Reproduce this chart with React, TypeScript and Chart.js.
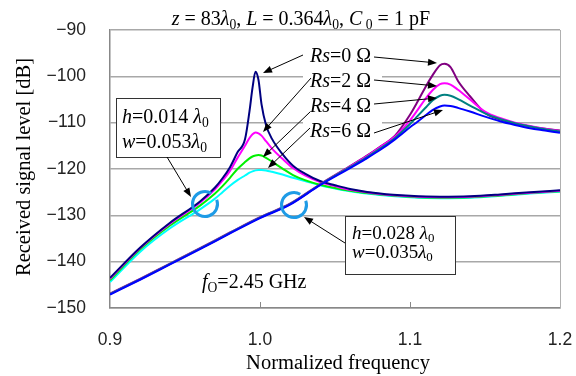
import React, { useEffect, useRef } from 'react';
import { Chart, registerables } from 'chart.js';

Chart.register(...registerables);

// ---------- data ----------
const X_TICKS = [0.9, 1.0, 1.1, 1.2];
const Y_TICKS = [-150, -140, -130, -120, -110, -100, -90];

// group A : h = 0.014 λ0, w = 0.053 λ0
const FREQ_A = [0.9, 0.92, 0.94, 0.96, 0.97, 0.975, 0.98, 0.985, 0.99, 0.993, 0.995, 0.997, 0.999, 1.001, 1.004, 1.008, 1.015, 1.022, 1.03, 1.04, 1.05, 1.06, 1.08, 1.1, 1.12, 1.14, 1.16, 1.18, 1.2];
const A_RS0 = [-143.5, -137.0, -131.6, -127.0, -124.0, -122.0, -119.6, -116.4, -113.6, -107.5, -102.5, -99.0, -100.8, -106.0, -110.5, -113.5, -116.8, -119.3, -121.0, -122.6, -123.5, -124.3, -125.3, -125.8, -126.0, -125.9, -125.5, -125.0, -124.6];
const A_RS2 = [-143.7, -137.1, -131.8, -127.3, -124.4, -122.5, -120.4, -117.6, -115.0, -113.3, -112.5, -112.1, -112.3, -112.8, -114.0, -115.6, -117.8, -119.8, -121.4, -122.8, -123.7, -124.5, -125.4, -125.9, -126.1, -126.0, -125.6, -125.1, -124.7];
const A_RS4 = [-144.0, -137.4, -132.2, -127.9, -125.3, -123.7, -121.9, -120.0, -118.5, -117.7, -117.3, -117.1, -117.0, -117.1, -117.6, -118.4, -119.9, -121.3, -122.4, -123.4, -124.1, -124.7, -125.5, -126.0, -126.2, -126.1, -125.7, -125.2, -124.8];
const A_RS6 = [-144.4, -137.9, -132.8, -128.7, -126.4, -125.0, -123.6, -122.4, -121.4, -120.8, -120.5, -120.3, -120.2, -120.2, -120.3, -120.6, -121.2, -121.9, -122.6, -123.5, -124.2, -124.8, -125.6, -126.1, -126.3, -126.2, -125.8, -125.3, -124.9];

// group B : h = 0.028 λ0, w = 0.035 λ0
const FREQ_B = [0.9, 0.92, 0.94, 0.96, 0.98, 1.0, 1.02, 1.04, 1.06, 1.07, 1.08, 1.09, 1.1, 1.105, 1.11, 1.115, 1.12, 1.123, 1.127, 1.132, 1.14, 1.15, 1.16, 1.17, 1.18, 1.19, 1.2];
const B_RS0 = [-146.9, -143.7, -140.4, -137.1, -133.7, -130.4, -127.5, -123.3, -119.4, -117.4, -115.2, -112.8, -108.3, -105.5, -102.5, -99.8, -97.6, -97.3, -98.0, -101.0, -104.3, -107.9, -109.3, -110.2, -110.8, -111.3, -111.7];
const B_RS2 = [-147.0, -143.8, -140.5, -137.2, -133.8, -130.5, -127.6, -123.4, -119.5, -117.5, -115.3, -113.0, -109.5, -107.3, -105.0, -103.0, -101.7, -101.5, -101.8, -102.9, -105.0, -107.6, -109.0, -110.0, -110.7, -111.3, -111.8];
const B_RS4 = [-147.0, -143.8, -140.5, -137.2, -133.8, -130.5, -127.6, -123.4, -119.6, -117.7, -115.6, -113.3, -110.3, -108.6, -106.9, -105.2, -104.2, -104.0, -104.2, -104.9, -106.3, -108.0, -109.2, -110.1, -110.8, -111.4, -111.9];
const B_RS6 = [-147.1, -143.9, -140.6, -137.3, -133.9, -130.6, -127.7, -123.5, -119.8, -117.9, -115.9, -113.6, -111.0, -109.8, -108.5, -107.3, -106.5, -106.3, -106.4, -106.8, -107.6, -108.7, -109.7, -110.5, -111.2, -111.7, -112.2];

const SERIES = [
  { label: 'B Rs=6 Ω', freq: FREQ_B, values: B_RS6, color: '#0000FF' },
  { label: 'B Rs=4 Ω', freq: FREQ_B, values: B_RS4, color: '#008080' },
  { label: 'B Rs=2 Ω', freq: FREQ_B, values: B_RS2, color: '#FF00FF' },
  { label: 'B Rs=0 Ω', freq: FREQ_B, values: B_RS0, color: '#800080' },
  { label: 'A Rs=0 Ω', freq: FREQ_A, values: A_RS0, color: '#000080' },
  { label: 'A Rs=2 Ω', freq: FREQ_A, values: A_RS2, color: '#FF00FF' },
  { label: 'A Rs=4 Ω', freq: FREQ_A, values: A_RS4, color: '#00F000' },
  { label: 'A Rs=6 Ω', freq: FREQ_A, values: A_RS6, color: '#00FFFF' },
];

// ---------- helpers ----------
type Seg = { t: string; it?: boolean; sub?: boolean };
const SERIF = '"Liberation Serif", "Times New Roman", serif';

function segFont(s: Seg, size: number) {
  const sz = s.sub ? size * 0.68 : size;
  return `${s.it ? 'italic ' : ''}${sz}px ${SERIF}`;
}
function richWidth(ctx: CanvasRenderingContext2D, segs: Seg[], size: number) {
  let w = 0;
  for (const s of segs) {
    ctx.font = segFont(s, size);
    w += ctx.measureText(s.t).width;
  }
  return w;
}
function drawRich(ctx: CanvasRenderingContext2D, x: number, y: number, segs: Seg[], size: number, align: 'left' | 'center' | 'right' = 'left') {
  const w = richWidth(ctx, segs, size);
  let cx = align === 'left' ? x : align === 'center' ? x - w / 2 : x - w;
  ctx.textAlign = 'left';
  ctx.textBaseline = 'alphabetic';
  ctx.fillStyle = '#000';
  for (const s of segs) {
    ctx.font = segFont(s, size);
    ctx.fillText(s.t, cx, y + (s.sub ? size * 0.18 : 0));
    cx += ctx.measureText(s.t).width;
  }
}
function drawArrow(ctx: CanvasRenderingContext2D, x1: number, y1: number, x2: number, y2: number) {
  const a = Math.atan2(y2 - y1, x2 - x1);
  const L = 9, H = 3.5;
  ctx.strokeStyle = '#000';
  ctx.fillStyle = '#000';
  ctx.lineWidth = 1;
  ctx.beginPath();
  ctx.moveTo(x1, y1);
  ctx.lineTo(x2 - Math.cos(a) * L * 0.8, y2 - Math.sin(a) * L * 0.8);
  ctx.stroke();
  ctx.beginPath();
  ctx.moveTo(x2, y2);
  ctx.lineTo(x2 - Math.cos(a) * L - Math.sin(a) * H, y2 - Math.sin(a) * L + Math.cos(a) * H);
  ctx.lineTo(x2 - Math.cos(a) * L + Math.sin(a) * H, y2 - Math.sin(a) * L - Math.cos(a) * H);
  ctx.closePath();
  ctx.fill();
}

const annotationPlugin = {
  id: 'annotations',
  beforeDatasetsDraw(chart: any) {
    const ctx = chart.ctx;
    ctx.save();
    ctx.fillStyle = '#fff';
    ctx.fillRect(303, 43, 79, 100);
    ctx.restore();
  },
  afterDatasetsDraw(chart: any) {
    const ctx: CanvasRenderingContext2D = chart.ctx;
    const { chartArea, scales } = chart;
    ctx.save();
    // right border
    ctx.strokeStyle = '#b0b0b0';
    ctx.lineWidth = 1;
    ctx.beginPath();
    ctx.moveTo(chartArea.right + 0.5, chartArea.top);
    ctx.lineTo(chartArea.right + 0.5, chartArea.bottom);
    ctx.stroke();
    // inner tick marks on x axis
    ctx.strokeStyle = '#888';
    for (const v of X_TICKS.slice(1, -1)) {
      const px = Math.round(scales.x.getPixelForValue(v)) + 0.5;
      ctx.beginPath();
      ctx.moveTo(px, chartArea.bottom);
      ctx.lineTo(px, chartArea.bottom - 6);
      ctx.stroke();
    }

    // circles
    ctx.strokeStyle = '#1E9BE6';
    ctx.lineWidth = 3;
    const deg = Math.PI / 180;
    for (const [cx, cy] of [[205, 204], [294, 205]]) {
      ctx.beginPath();
      ctx.arc(cx, cy, 12.5, -20 * deg, 300 * deg);
      ctx.stroke();
    }

    // boxes
    ctx.fillStyle = '#fff';
    ctx.strokeStyle = '#333';
    ctx.lineWidth = 1;
    ctx.fillRect(116, 98, 104, 59);
    ctx.strokeRect(116.5, 98.5, 104, 59);
    ctx.fillRect(345, 216, 110, 58);
    ctx.strokeRect(345.5, 216.5, 110, 58);

    drawRich(ctx, 122, 123, [{ t: 'h', it: true }, { t: '=0.014 ' }, { t: 'λ', it: true }, { t: '0', sub: true }], 20);
    drawRich(ctx, 122, 148, [{ t: 'w', it: true }, { t: '=0.053' }, { t: 'λ', it: true }, { t: '0', sub: true }], 20);
    drawRich(ctx, 352, 239, [{ t: 'h', it: true }, { t: '=0.028 ' }, { t: 'λ', it: true }, { t: '0', sub: true }], 19);
    drawRich(ctx, 352, 258, [{ t: 'w', it: true }, { t: '=0.035' }, { t: 'λ', it: true }, { t: '0', sub: true }], 19);

    // Rs labels
    const rs = ['0', '2', '4', '6'];
    const base = [62, 87, 112, 137];
    rs.forEach((r, i) => {
      drawRich(ctx, 310, base[i], [{ t: 'Rs', it: true }, { t: '=' + r + ' Ω' }], 20);
    });

    // arrows
    drawArrow(ctx, 303, 55, 263, 73);
    drawArrow(ctx, 311, 78, 263, 132);
    drawArrow(ctx, 310, 112, 263, 157);
    drawArrow(ctx, 310, 128, 268, 168);
    drawArrow(ctx, 374, 57, 437, 63);
    drawArrow(ctx, 374, 80, 437, 86);
    drawArrow(ctx, 374, 104, 437, 98);
    drawArrow(ctx, 374, 133, 443, 110);
    drawArrow(ctx, 167, 157, 191, 197);
    drawArrow(ctx, 345, 243, 304, 217);

    // f0 label
    drawRich(ctx, 202, 288, [{ t: 'f', it: true }, { t: 'O', sub: true }, { t: '=2.45 GHz' }], 20);

    ctx.restore();
  },
  afterDraw(chart: any) {
    const ctx: CanvasRenderingContext2D = chart.ctx;
    ctx.save();
    // title
    drawRich(ctx, 430, 25, [
      { t: 'z', it: true }, { t: ' = 83' }, { t: 'λ', it: true }, { t: '0', sub: true },
      { t: ', ' }, { t: 'L', it: true }, { t: ' = 0.364' }, { t: 'λ', it: true }, { t: '0', sub: true },
      { t: ', ' }, { t: 'C', it: true }, { t: ' 0', sub: true }, { t: ' = 1 pF' },
    ], 20, 'right');
    // axis titles
    drawRich(ctx, 338, 369, [{ t: 'Normalized frequency' }], 20.5, 'center');
    ctx.translate(30, 167);
    ctx.rotate(-Math.PI / 2);
    drawRich(ctx, 0, 0, [{ t: 'Received signal level [dB]' }], 20.5, 'center');
    ctx.restore();
  },
};

export default function App() {
  const ref = useRef<HTMLCanvasElement | null>(null);
  useEffect(() => {
    if (!ref.current) return;
    const chart = new Chart(ref.current, {
      type: 'line',
      data: {
        datasets: SERIES.map((s) => ({
          label: s.label,
          data: s.freq.map((f, i) => ({ x: f, y: s.values[i] })),
          borderColor: s.color,
          backgroundColor: s.color,
          borderWidth: 2,
          pointRadius: 0,
          cubicInterpolationMode: 'monotone' as const,
          fill: false,
        })),
      },
      options: {
        animation: false,
        responsive: false,
        maintainAspectRatio: false,
        layout: { padding: { top: 30, right: 16, bottom: 0, left: 0 } },
        plugins: { legend: { display: false }, title: { display: false }, tooltip: { enabled: false } },
        scales: {
          x: {
            type: 'linear',
            min: 0.9,
            max: 1.2,
            afterBuildTicks: (scale: any) => { scale.ticks = X_TICKS.map((v) => ({ value: v })); },
            afterFit: (scale: any) => { scale.height = 68; scale.paddingLeft = 0; scale.paddingRight = 0; },
            grid: { display: false, drawTicks: false },
            border: { display: true, color: '#888', width: 1.5 },
            ticks: {
              padding: 22,
              color: '#222',
              font: { family: '"Liberation Sans", Arial, sans-serif', size: 17.5 },
              callback: (v: any) => Number(v).toFixed(1),
              maxRotation: 0,
            },
          },
          y: {
            type: 'linear',
            min: -150,
            max: -90,
            afterBuildTicks: (scale: any) => { scale.ticks = Y_TICKS.map((v) => ({ value: v })); },
            afterFit: (scale: any) => { scale.width = 110; scale.paddingTop = 0; scale.paddingBottom = 0; },
            grid: { color: '#a8a8a8', lineWidth: 1.5, drawTicks: false },
            border: { display: true, color: '#888', width: 1.5 },
            ticks: {
              padding: 24,
              color: '#222',
              font: { family: '"Liberation Sans", Arial, sans-serif', size: 17.5 },
              callback: (v: any) => (Number(v) < 0 ? '\u2212' + Math.abs(Number(v)) : String(v)),
            },
          },
        },
      },
      plugins: [annotationPlugin],
    });
    return () => chart.destroy();
  }, []);
  return (
    <div style={{ position: 'absolute', left: 0, top: 0, width: 576, height: 376, background: '#fff' }}>
      <canvas ref={ref} width={576} height={376} style={{ display: 'block' }} />
    </div>
  );
}
